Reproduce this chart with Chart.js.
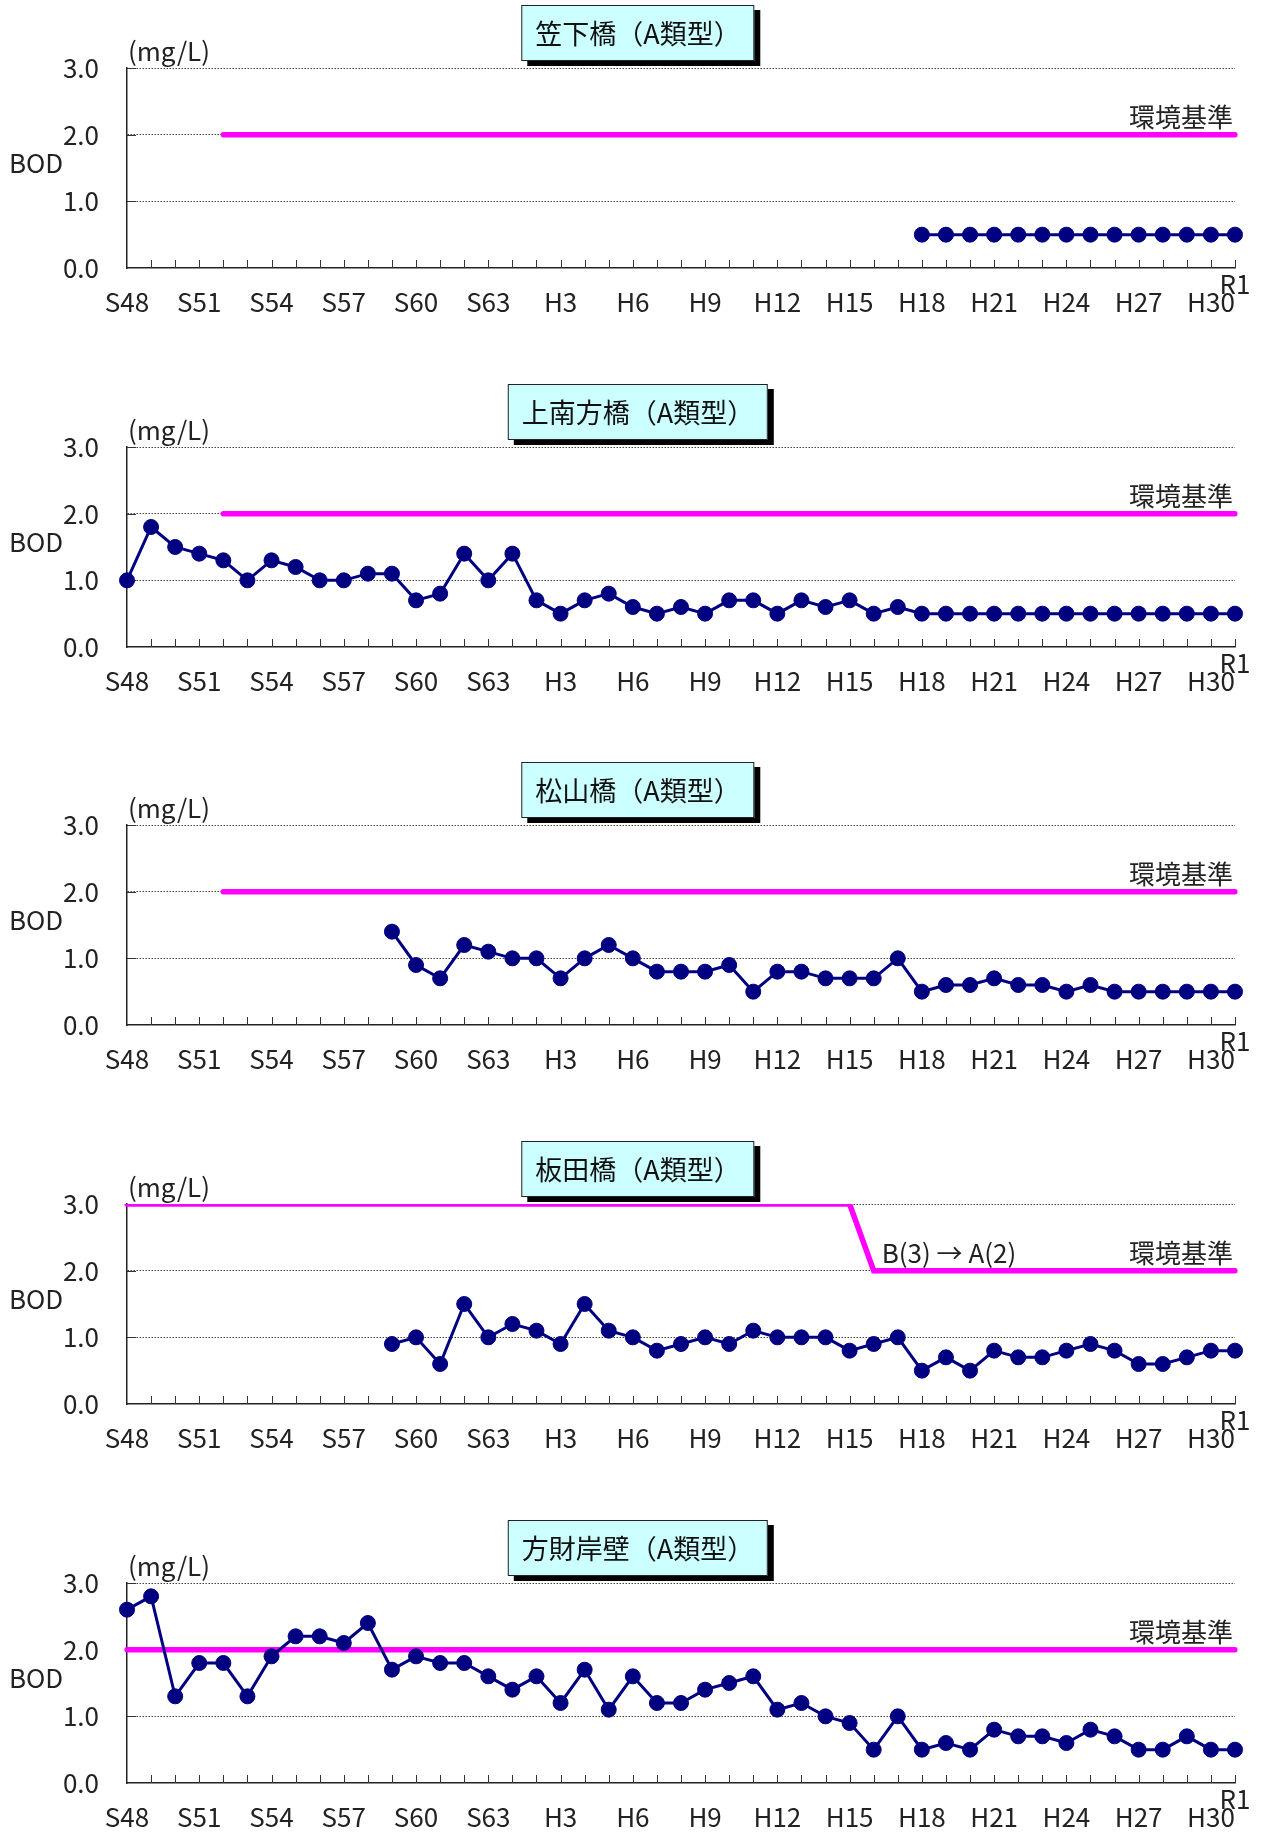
<!DOCTYPE html>
<html lang="ja">
<head>
<meta charset="utf-8">
<title>BOD 経年変化</title>
<script src="https://cdn.jsdelivr.net/npm/chart.js@4.4.1/dist/chart.umd.min.js"></script>
<style>
  body { margin: 0; background: #fff; width: 1262px; height: 1832px; overflow: hidden; position: relative; font-family: "Noto Sans CJK JP", sans-serif; }
  .block { position: absolute; left: 0; width: 1262px; height: 318px; }
  .block canvas { position: absolute; left: 0; top: 0; }
  .ttl { position: absolute; top: 5px; left: 638px; transform: translateX(-50%); height: 56px; box-sizing: border-box;
         padding: 0 13px; line-height: 53px; background: #ccffff; border: 1px solid #222; box-shadow: 6px 5px 0 #000;
         font-size: 27px; color: #111; white-space: nowrap; z-index: 2; }
</style>
</head>
<body>
<div class="block" style="top:0px"><canvas id="c1" width="1262" height="318"></canvas><div class="ttl">笠下橋（A類型）</div></div>
<div class="block" style="top:379px"><canvas id="c2" width="1262" height="318"></canvas><div class="ttl">上南方橋（A類型）</div></div>
<div class="block" style="top:757px"><canvas id="c3" width="1262" height="318"></canvas><div class="ttl">松山橋（A類型）</div></div>
<div class="block" style="top:1136px"><canvas id="c4" width="1262" height="318"></canvas><div class="ttl">板田橋（A類型）</div></div>
<div class="block" style="top:1515px"><canvas id="c5" width="1262" height="318"></canvas><div class="ttl">方財岸壁（A類型）</div></div>

<script>
// 年度 (S48 = 1973 ～ R1 = 2019)
const years = ['S48','S49','S50','S51','S52','S53','S54','S55','S56','S57',
               'S58','S59','S60','S61','S62','S63','H1','H2','H3','H4',
               'H5','H6','H7','H8','H9','H10','H11','H12','H13','H14',
               'H15','H16','H17','H18','H19','H20','H21','H22','H23','H24',
               'H25','H26','H27','H28','H29','H30','R1'];
const shownTicks = ['S48','S51','S54','S57','S60','S63','H3','H6','H9','H12','H15','H18','H21','H24','H27','H30','R1'];
const yTicks = [0, 1, 2, 3];

// BOD 年平均値 (mg/L)
const kasashita = [null,null,null,null,null,null,null,null,null,null,
                   null,null,null,null,null,null,null,null,null,null,
                   null,null,null,null,null,null,null,null,null,null,
                   null,null,null,0.5,0.5,0.5,0.5,0.5,0.5,0.5,
                   0.5,0.5,0.5,0.5,0.5,0.5,0.5];
const kaminanpo = [1.0,1.8,1.5,1.4,1.3,1.0,1.3,1.2,1.0,1.0,
                   1.1,1.1,0.7,0.8,1.4,1.0,1.4,0.7,0.5,0.7,
                   0.8,0.6,0.5,0.6,0.5,0.7,0.7,0.5,0.7,0.6,
                   0.7,0.5,0.6,0.5,0.5,0.5,0.5,0.5,0.5,0.5,
                   0.5,0.5,0.5,0.5,0.5,0.5,0.5];
const matsuyama = [null,null,null,null,null,null,null,null,null,null,
                   null,1.4,0.9,0.7,1.2,1.1,1.0,1.0,0.7,1.0,
                   1.2,1.0,0.8,0.8,0.8,0.9,0.5,0.8,0.8,0.7,
                   0.7,0.7,1.0,0.5,0.6,0.6,0.7,0.6,0.6,0.5,
                   0.6,0.5,0.5,0.5,0.5,0.5,0.5];
const itada = [null,null,null,null,null,null,null,null,null,null,
               null,0.9,1.0,0.6,1.5,1.0,1.2,1.1,0.9,1.5,
               1.1,1.0,0.8,0.9,1.0,0.9,1.1,1.0,1.0,1.0,
               0.8,0.9,1.0,0.5,0.7,0.5,0.8,0.7,0.7,0.8,
               0.9,0.8,0.6,0.6,0.7,0.8,0.8];
const houzai = [2.6,2.8,1.3,1.8,1.8,1.3,1.9,2.2,2.2,2.1,
                2.4,1.7,1.9,1.8,1.8,1.6,1.4,1.6,1.2,1.7,
                1.1,1.6,1.2,1.2,1.4,1.5,1.6,1.1,1.2,1.0,
                0.9,0.5,1.0,0.5,0.6,0.5,0.8,0.7,0.7,0.6,
                0.8,0.7,0.5,0.5,0.7,0.5,0.5];

// 環境基準
const envA = [null,null,null,null,2,2,2,2,2,2,
              2,2,2,2,2,2,2,2,2,2,
              2,2,2,2,2,2,2,2,2,2,
              2,2,2,2,2,2,2,2,2,2,
              2,2,2,2,2,2,2];
const envItada = [3,3,3,3,3,3,3,3,3,3,
                  3,3,3,3,3,3,3,3,3,3,
                  3,3,3,3,3,3,3,3,3,3,
                  3,2,2,2,2,2,2,2,2,2,
                  2,2,2,2,2,2,2];
const envHouzai = [2,2,2,2,2,2,2,2,2,2,
                   2,2,2,2,2,2,2,2,2,2,
                   2,2,2,2,2,2,2,2,2,2,
                   2,2,2,2,2,2,2,2,2,2,
                   2,2,2,2,2,2,2];

const FONT = '"Noto Sans CJK JP", "Noto Sans", sans-serif';
Chart.defaults.font.family = FONT;
Chart.defaults.color = '#222';

// 目盛り線と注記
const bodDeco = {
  id: 'bodDeco',
  beforeDatasetsDraw(chart) {
    const { ctx, chartArea: a, scales: { x, y } } = chart;
    ctx.save();
    ctx.strokeStyle = '#333';
    ctx.lineWidth = 1;
    ctx.beginPath();
    for (let i = 1; i < years.length; i++) {
      const px = Math.round(x.getPixelForValue(i)) + 0.5;
      ctx.moveTo(px, a.bottom);
      ctx.lineTo(px, a.bottom - 8);
    }
    yTicks.slice(1).forEach(v => {
      const py = Math.round(y.getPixelForValue(v)) + 0.5;
      ctx.moveTo(a.left, py);
      ctx.lineTo(a.left + 9, py);
    });
    ctx.stroke();
    ctx.restore();
  },
  afterDatasetsDraw(chart, args, opts) {
    const { ctx, chartArea: a, scales: { x, y } } = chart;
    ctx.save();
    ctx.fillStyle = '#222';
    ctx.font = '26px ' + FONT;
    ctx.textBaseline = 'middle';
    ctx.textAlign = 'left';
    ctx.fillText('BOD', 9, y.getPixelForValue(1.5) - 5);
    ctx.textBaseline = 'alphabetic';
    ctx.fillText('(mg/L)', a.left + 1, a.top - 7);
    const y2 = y.getPixelForValue(2) - 8;
    if (opts.note) {
      ctx.fillText(opts.note, x.getPixelForValue(opts.noteAt) + 8, y2);
    }
    ctx.textAlign = 'right';
    ctx.fillText('環境基準', a.right - 2, y2);
    ctx.restore();
  }
};

function makeChart(id, values, env, deco) {
  const ctx = document.getElementById(id).getContext('2d');
  return new Chart(ctx, {
    type: 'line',
    data: {
      labels: years,
      datasets: [{
        label: 'BOD',
        data: values,
        borderColor: '#000080',
        backgroundColor: '#000080',
        borderWidth: 3,
        pointRadius: 7.5,
        pointBorderWidth: 1,
        pointBorderColor: '#000080',
        pointBackgroundColor: '#000080'
      }, {
        label: '環境基準',
        data: env,
        borderColor: '#ff00ff',
        borderWidth: 5.5,
        borderCapStyle: 'round',
        pointRadius: 0
      }]
    },
    options: {
      responsive: false,
      animation: false,
      devicePixelRatio: 1,
      layout: { padding: { top: 68, right: 27, left: 0, bottom: 0 } },
      scales: {
        x: {
          grid: { display: false, drawTicks: false },
          border: { display: true, color: '#222', width: 1.5 },
          ticks: {
            autoSkip: false,
            maxRotation: 0,
            padding: 7,
            color: '#222',
            font: { size: 26, lineHeight: 18 / 26 },
            callback: function (value, index) {
              const lab = years[index];
              if (lab === 'R1') return ['R1'];
              return shownTicks.includes(lab) ? ['', lab] : '';
            }
          },
          afterFit: s => { s.height = 50; }
        },
        y: {
          min: 0,
          max: 3,
          grid: {
            drawTicks: false,
            color: c => (c.tick && c.tick.value === 0 ? 'rgba(0,0,0,0)' : '#444'),
            lineWidth: 1
          },
          border: { display: true, color: '#222', width: 1.5, dash: [1.5, 1.5] },
          ticks: {
            stepSize: 1,
            padding: 28,
            color: '#222',
            font: { size: 26 },
            callback: v => yTicks.includes(v) ? v.toFixed(1) : ''
          },
          afterFit: s => { s.width = 127; }
        }
      },
      plugins: {
        legend: { display: false },
        tooltip: { enabled: false },
        bodDeco: deco || {}
      }
    },
    plugins: [bodDeco]
  });
}

document.addEventListener('DOMContentLoaded', function () {
  makeChart('c1', kasashita, envA);
  makeChart('c2', kaminanpo, envA);
  makeChart('c3', matsuyama, envA);
  makeChart('c4', itada, envItada, { note: 'B(3) → A(2)', noteAt: 31 });
  makeChart('c5', houzai, envHouzai);
});
</script>
</body>
</html>
